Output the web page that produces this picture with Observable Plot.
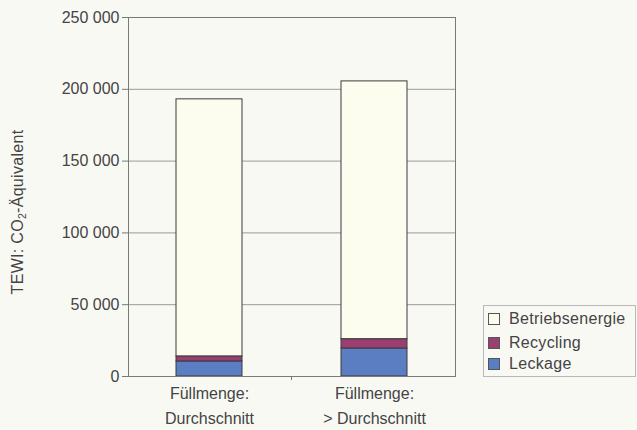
<!DOCTYPE html>
<html>
<head>
<meta charset="utf-8">
<script src="https://cdn.jsdelivr.net/npm/d3@7"></script>
<script src="https://cdn.jsdelivr.net/npm/@observablehq/plot@0.6"></script>
<style>
  html, body { margin: 0; padding: 0; background: #f9f9f4; }
  #wrap { position: relative; width: 637px; height: 430px; font-family: "Liberation Sans", Arial, sans-serif; color: #444; }
  #ylab { position: absolute; left: 18px; top: 212px; transform: translate(-50%, -50%) rotate(-90deg); white-space: nowrap; font-size: 16px; letter-spacing: 0.3px; }
  #ylab sub { font-size: 10.5px; vertical-align: -3px; }
  #legend { position: absolute; left: 483px; top: 305px; width: 153px; height: 72px; border: 1px solid #b8b8b8; box-sizing: border-box; font-size: 16px; letter-spacing: 0.3px; }
  #legend .item { position: absolute; left: 4px; height: 20px; display: flex; align-items: center; }
  #legend .sw { width: 10px; height: 10px; border: 1px solid #555; margin-right: 9px; }
</style>
</head>
<body>
<div id="wrap">
  <div id="chart"></div>
  <div id="ylab">TEWI: CO<sub>2</sub>-Äquivalent</div>
  <div id="legend"></div>
</div>
<script>
// ---- data ----
const categories = ["Füllmenge:\nDurchschnitt", "Füllmenge:\n> Durchschnitt"];
const seriesNames = ["Leckage", "Recycling", "Betriebsenergie"];
const leckage = [10500, 19500];
const recycling = [3500, 6500];
const betriebsenergie = [179000, 179500];
const yTicks = [0, 50000, 100000, 150000, 200000, 250000];
const legendOrder = ["Betriebsenergie", "Recycling", "Leckage"];
const colors = ["#5b7ec2", "#9a3f72", "#fdfdef"];

const seriesValues = {Leckage: leckage, Recycling: recycling, Betriebsenergie: betriebsenergie};
const rows = [];
for (const s of seriesNames) {
  categories.forEach((c, i) => rows.push({cat: c, series: s, value: seriesValues[s][i]}));
}

const fmt = d3.formatLocale({thousands: "\u00a0", grouping: [3], decimal: ","}).format(",");

function midTick(index, scales, values, dims) {
  const x = scales.x;
  const bw = (scales.scales && scales.scales.x && scales.scales.x.bandwidth) || x.bandwidth || 0;
  const mx = (x(categories[0]) + x(categories[1])) / 2 + bw / 2;
  const y0 = dims.height - dims.marginBottom;
  const g = d3.create("svg:line")
    .attr("x1", mx).attr("x2", mx)
    .attr("y1", y0).attr("y2", y0 + 4)
    .attr("stroke", "#777");
  return g.node();
}

const chart = Plot.plot({
  width: 637,
  height: 430,
  marginLeft: 128,
  marginRight: 182,
  marginTop: 17,
  marginBottom: 54,
  style: {background: "transparent", fontFamily: "Liberation Sans, Arial, sans-serif", fontSize: "16px", color: "#444"},
  x: {domain: categories, paddingInner: 0.6, paddingOuter: 0.29, label: null},
  y: {domain: [0, 250000], label: null},
  color: {domain: seriesNames, range: colors},
  marks: [
    Plot.gridY(yTicks, {stroke: "#9a9a9a", strokeOpacity: 1, strokeWidth: 1}),
    Plot.barY(rows, Plot.stackY({order: seriesNames}, {x: "cat", y: "value", fill: "series", stroke: "#3a3a3a", strokeWidth: 1})),
    Plot.frame({stroke: "#7a7a7a", strokeWidth: 1}),
    Plot.axisY(yTicks, {tickFormat: fmt, tickSize: 6, tickPadding: 3, stroke: "#777", fontSize: 16, letterSpacing: 0.3, label: null}),
    Plot.axisX({tickSize: 0, tickPadding: 5, fontSize: 16, lineHeight: 1.56, letterSpacing: 0.3, label: null}),
    midTick
  ]
});
document.getElementById("chart").appendChild(chart);

// legend
const legend = document.getElementById("legend");
legendOrder.forEach((s, i) => {
  const item = document.createElement("div");
  item.className = "item";
  item.style.top = (3 + [0, 24, 45][i]) + "px";
  const sw = document.createElement("span");
  sw.className = "sw";
  sw.style.background = colors[seriesNames.indexOf(s)];
  const label = document.createElement("span");
  label.textContent = s;
  item.appendChild(sw);
  item.appendChild(label);
  legend.appendChild(item);
});
</script>
</body>
</html>
